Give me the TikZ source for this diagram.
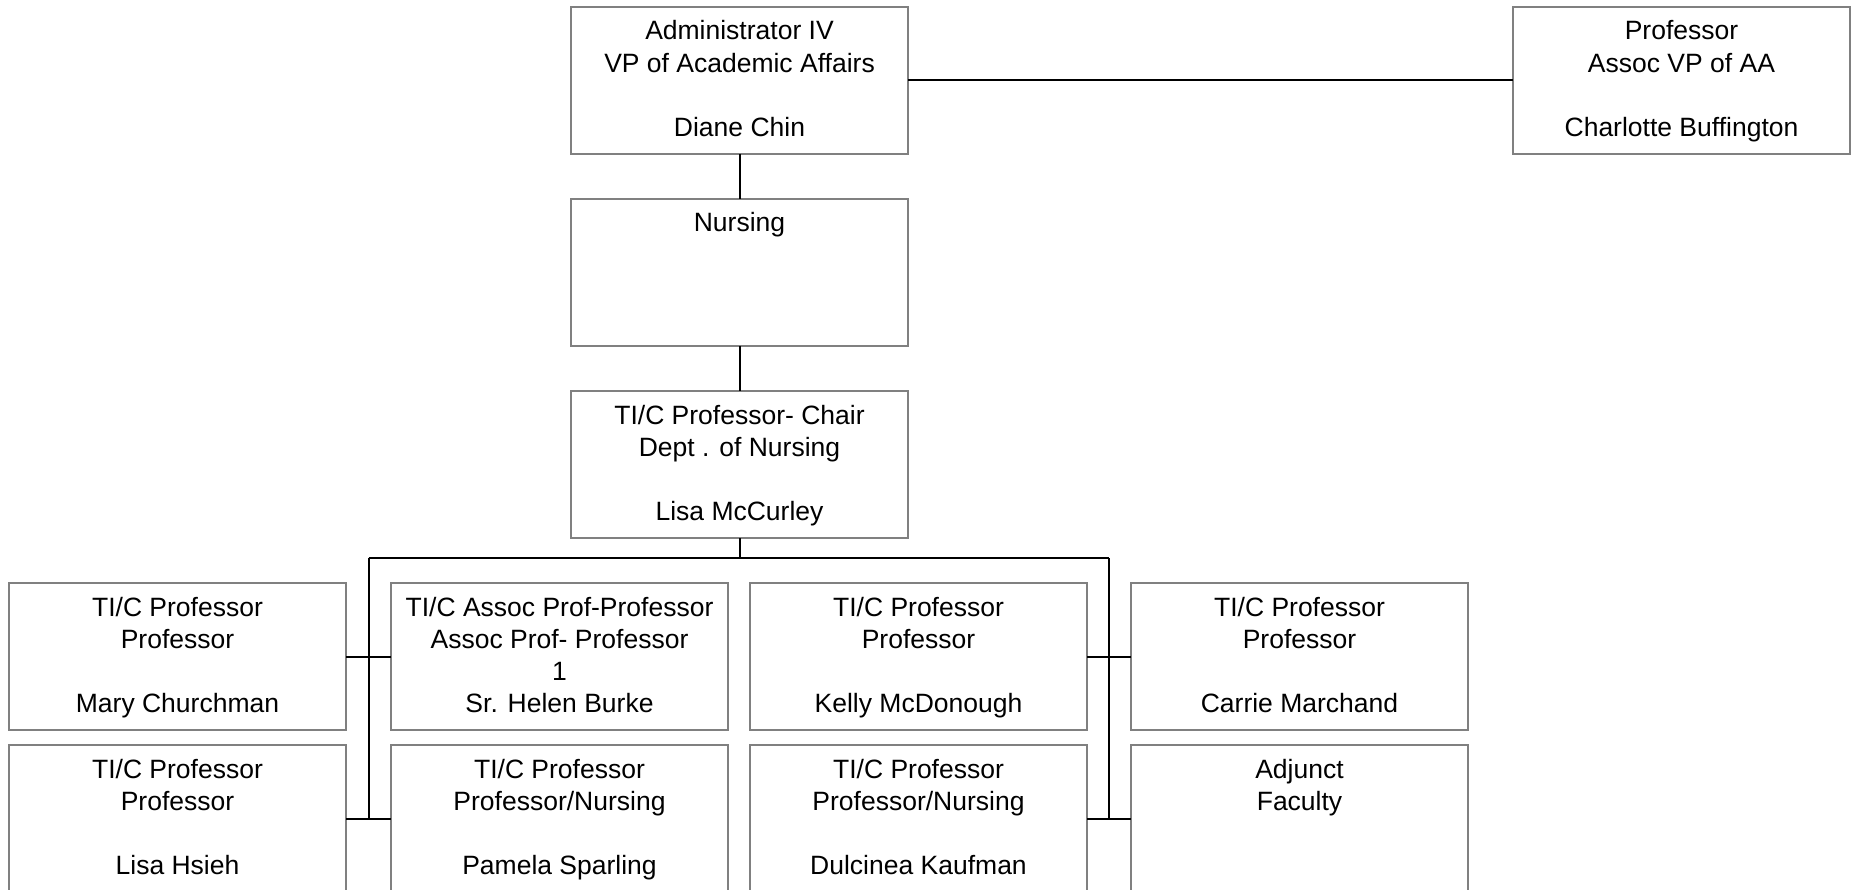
\documentclass[tikz,border=0pt]{standalone}
\usepackage{fontspec}
\setmainfont{Liberation Sans}
\definecolor{boxgray}{RGB}{128,128,128}
\newcommand{\bt}[1]{\parbox[c][147pt][t]{337pt}{\centering\fontsize{26.5}{32.3}\selectfont\rule{0pt}{33pt}#1}}
\tikzset{
  orgbox/.style={draw=boxgray, line width=1.8pt, inner sep=0pt, outer sep=0pt, anchor=north west},
  conn/.style={draw=black, line width=2pt}
}
\begin{document}
\begin{tikzpicture}[x=1pt,y=-1pt]
\useasboundingbox (0,0) rectangle (1857,890);
\node[orgbox] (admin) at (571,7) {\bt{Administrator IV\\VP of Academic Affairs\\\mbox{}\\Diane Chin}};
\node[orgbox] (assoc) at (1513,7) {\bt{Professor\\Assoc VP of AA\\\mbox{}\\Charlotte Buffington}};
\node[orgbox] (nursing) at (571,199) {\bt{Nursing}};
\node[orgbox] (chair) at (571,391) {\bt{TI/C Professor- Chair\\Dept . of Nursing\\\mbox{}\\Lisa McCurley}};
\node[orgbox] (c1a) at (9,583) {\bt{TI/C Professor\\Professor\\\mbox{}\\Mary Churchman}};
\node[orgbox] (c2a) at (391,583) {\bt{TI/C Assoc Prof-Professor\\Assoc Prof- Professor\\1\\Sr. Helen Burke}};
\node[orgbox] (c3a) at (750,583) {\bt{TI/C Professor\\Professor\\\mbox{}\\Kelly McDonough}};
\node[orgbox] (c4a) at (1131,583) {\bt{TI/C Professor\\Professor\\\mbox{}\\Carrie Marchand}};
\node[orgbox] (c1b) at (9,745) {\bt{TI/C Professor\\Professor\\\mbox{}\\Lisa Hsieh}};
\node[orgbox] (c2b) at (391,745) {\bt{TI/C Professor\\Professor/Nursing\\\mbox{}\\Pamela Sparling}};
\node[orgbox] (c3b) at (750,745) {\bt{TI/C Professor\\Professor/Nursing\\\mbox{}\\Dulcinea Kaufman}};
\node[orgbox] (c4b) at (1131,745) {\bt{Adjunct\\Faculty}};
\coordinate (busL) at (368.5,558);
\coordinate (busR) at (1109,558);
\coordinate (busM) at (chair.south |- busL);
\draw[conn] (admin.east) -- (assoc.west);
\draw[conn] (admin.south) -- (nursing.north);
\draw[conn] (nursing.south) -- (chair.north);
\draw[conn] (chair.south) -- (busM);
\draw[conn] (busL) -- (busR);
\draw[conn] (busL) -- (busL |- c1b.east);
\draw[conn] (busR) -- (busR |- c3b.east);
\draw[conn] (c1a.east) -- (c2a.west);
\draw[conn] (c1b.east) -- (c2b.west);
\draw[conn] (c3a.east) -- (c4a.west);
\draw[conn] (c3b.east) -- (c4b.west);
\end{tikzpicture}
\end{document}
